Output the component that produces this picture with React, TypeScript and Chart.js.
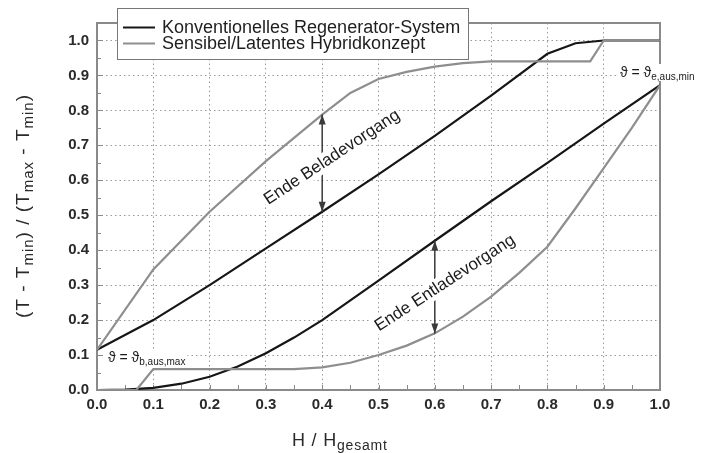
import React, { useEffect, useRef } from "react";
import { Chart, registerables } from "chart.js";

Chart.register(...registerables);

const FONT = "'Liberation Sans', Arial, Helvetica, sans-serif";

// ---- data ----
const legendLabels = ["Konventionelles Regenerator-System", "Sensibel/Latentes Hybridkonzept"];
const xTicks = [0, 0.1, 0.2, 0.3, 0.4, 0.5, 0.6, 0.7, 0.8, 0.9, 1.0];
const yTicks = [0, 0.1, 0.2, 0.3, 0.4, 0.5, 0.6, 0.7, 0.8, 0.9, 1.0];

// Konventionelles Regenerator-System, end of charging
const convChargeX = [0, 0.1, 0.2, 0.3, 0.4, 0.5, 0.6, 0.7, 0.8, 0.85, 0.9, 1.0];
const convChargeY = [0.115, 0.2, 0.3, 0.405, 0.51, 0.617, 0.727, 0.842, 0.962, 0.992, 1.0, 1.0];
// Konventionelles Regenerator-System, end of discharging
const convDischargeX = [0, 0.05, 0.1, 0.15, 0.2, 0.25, 0.3, 0.35, 0.4, 0.5, 0.6, 0.7, 0.8, 0.9, 1.0];
const convDischargeY = [0, 0.001, 0.006, 0.018, 0.038, 0.067, 0.105, 0.15, 0.2, 0.313, 0.427, 0.54, 0.65, 0.762, 0.872];
// Hybridkonzept, end of charging
const hybridChargeX = [0, 0.1, 0.2, 0.3, 0.4, 0.45, 0.5, 0.55, 0.6, 0.65, 0.7, 0.876, 0.9, 1.0];
const hybridChargeY = [0.115, 0.345, 0.51, 0.655, 0.788, 0.85, 0.89, 0.91, 0.925, 0.935, 0.94, 0.94, 1.0, 1.0];
// Hybridkonzept, end of discharging
const hybridDischargeX = [0, 0.07, 0.1, 0.2, 0.3, 0.35, 0.4, 0.45, 0.5, 0.55, 0.6, 0.65, 0.7, 0.75, 0.8, 0.85, 0.9, 0.95, 1.0];
const hybridDischargeY = [0, 0, 0.06, 0.06, 0.06, 0.06, 0.065, 0.078, 0.1, 0.127, 0.162, 0.21, 0.267, 0.335, 0.41, 0.52, 0.635, 0.75, 0.872];

// annotations (data values)
const beladeArrow = { x: 0.4, from: 0.51, to: 0.788 };
const entladeArrow = { x: 0.6, from: 0.427, to: 0.162 };
const beladeLabel = "Ende Beladevorgang";
const entladeLabel = "Ende Entladevorgang";

const BLACK = "#161616";
const GRAY = "#8e8e8e";
const FRAME = "#8a8a8a";

const pts = (xs: number[], ys: number[]) => xs.map((x, i) => ({ x, y: ys[i] }));

type Part = { t: string; sub?: boolean };

function richWidth(ctx: CanvasRenderingContext2D, parts: Part[], main: number, sub: number) {
  let w = 0;
  for (const p of parts) {
    ctx.font = `${p.sub ? sub : main}px ${FONT}`;
    w += ctx.measureText(p.t).width;
  }
  return w;
}

function drawRich(
  ctx: CanvasRenderingContext2D,
  parts: Part[],
  x: number,
  y: number,
  main: number,
  sub: number,
  shift: number,
  align: "left" | "center",
  color: string
) {
  const w = richWidth(ctx, parts, main, sub);
  let cx = align === "center" ? x - w / 2 : x;
  ctx.fillStyle = color;
  ctx.textAlign = "left";
  ctx.textBaseline = "alphabetic";
  for (const p of parts) {
    ctx.font = `${p.sub ? sub : main}px ${FONT}`;
    ctx.fillText(p.t, cx, y + (p.sub ? shift : 0));
    cx += ctx.measureText(p.t).width;
  }
  return w;
}

function arrowHead(ctx: CanvasRenderingContext2D, x: number, tipY: number, dir: number) {
  ctx.beginPath();
  ctx.moveTo(x, tipY);
  ctx.lineTo(x - 3.5, tipY - dir * 10);
  ctx.lineTo(x + 3.5, tipY - dir * 10);
  ctx.closePath();
  ctx.fill();
}

function doubleArrow(ctx: CanvasRenderingContext2D, x: number, y1: number, y2: number) {
  ctx.strokeStyle = "#3a3a3a";
  ctx.fillStyle = "#3a3a3a";
  ctx.lineWidth = 1.5;
  ctx.beginPath();
  ctx.moveTo(x, y1);
  ctx.lineTo(x, y2);
  ctx.stroke();
  arrowHead(ctx, x, y1, y1 < y2 ? -1 : 1);
  arrowHead(ctx, x, y2, y2 < y1 ? -1 : 1);
}

function rotatedLabel(ctx: CanvasRenderingContext2D, text: string, cx: number, cy: number, deg: number, size: number) {
  ctx.save();
  ctx.translate(cx, cy);
  ctx.rotate((deg * Math.PI) / 180);
  ctx.font = `${size}px ${FONT}`;
  const w = ctx.measureText(text).width;
  ctx.fillStyle = "#ffffff";
  ctx.fillRect(-w / 2 - 2, -size * 0.55, w + 4, size * 1.1);
  ctx.fillStyle = "#1a1a1a";
  ctx.textAlign = "center";
  ctx.textBaseline = "middle";
  ctx.fillText(text, 0, 0);
  ctx.restore();
}

const overlay = {
  id: "overlay",
  beforeDatasetsDraw(chart: any) {
    const { ctx, chartArea: a, scales } = chart;
    const xs = scales.x;
    const ys = scales.y;
    ctx.save();
    ctx.strokeStyle = FRAME;
    ctx.lineWidth = 1;
    ctx.beginPath();
    for (let i = 0; i <= 21; i++) {
      const y = Math.round(ys.getPixelForValue(i * 0.05)) + 0.5;
      const len = i % 2 === 0 ? 6 : 4;
      ctx.moveTo(a.left, y);
      ctx.lineTo(a.left + len, y);
    }
    for (let i = 0; i <= 20; i++) {
      const x = Math.round(xs.getPixelForValue(i * 0.05)) + 0.5;
      ctx.moveTo(x, a.bottom);
      ctx.lineTo(x, a.bottom - 5);
    }
    ctx.stroke();
    ctx.lineWidth = 2;
    ctx.strokeRect(a.left, a.top, a.right - a.left, a.bottom - a.top);
    ctx.restore();
  },
  afterDraw(chart: any) {
    const { ctx, scales } = chart;
    const xs = scales.x;
    const ys = scales.y;
    ctx.save();

    // arrows
    doubleArrow(ctx, xs.getPixelForValue(beladeArrow.x), ys.getPixelForValue(beladeArrow.from), ys.getPixelForValue(beladeArrow.to));
    doubleArrow(ctx, xs.getPixelForValue(entladeArrow.x), ys.getPixelForValue(entladeArrow.from), ys.getPixelForValue(entladeArrow.to));

    // rotated labels
    rotatedLabel(ctx, beladeLabel, xs.getPixelForValue(0.4174), ys.getPixelForValue(0.6657), -33.4, 17);
    rotatedLabel(ctx, entladeLabel, xs.getPixelForValue(0.618), ys.getPixelForValue(0.3057), -33, 17);

    // theta labels
    const thE: Part[] = [{ t: "\u03D1 = \u03D1" }, { t: "e,aus,min", sub: true }];
    const wE = richWidth(ctx, thE, 14, 10);
    ctx.fillStyle = "#fff";
    ctx.fillRect(618, 64, wE + 4, 17);
    drawRich(ctx, thE, 620, 77, 14, 10, 3, "left", "#1a1a1a");

    const thB: Part[] = [{ t: "\u03D1 = \u03D1" }, { t: "b,aus,max", sub: true }];
    const wB = richWidth(ctx, thB, 14, 10);
    ctx.fillStyle = "#fff";
    ctx.fillRect(106, 349, wB + 4, 18);
    drawRich(ctx, thB, 108, 362, 14, 10, 3, "left", "#1a1a1a");

    // legend box
    ctx.fillStyle = "#fff";
    ctx.fillRect(117, 8, 351, 51);
    ctx.strokeStyle = "#777";
    ctx.lineWidth = 1;
    ctx.strokeRect(117.5, 8.5, 351, 51);
    const rows = [
      { label: legendLabels[0], color: BLACK, y: 27.5 },
      { label: legendLabels[1], color: GRAY, y: 43.5 },
    ];
    for (const r of rows) {
      ctx.strokeStyle = r.color;
      ctx.lineWidth = 2;
      ctx.beginPath();
      ctx.moveTo(123, r.y);
      ctx.lineTo(155, r.y);
      ctx.stroke();
      ctx.fillStyle = "#1e1e1e";
      ctx.font = `18px ${FONT}`;
      ctx.textAlign = "left";
      ctx.textBaseline = "middle";
      ctx.fillText(r.label, 162, r.y + 0.5);
    }

    // axis titles
    ctx.save();
    (ctx as any).letterSpacing = "0.8px";
    drawRich(ctx, [{ t: "H / H" }, { t: "gesamt", sub: true }], 292, 446, 18, 14, 4, "left", "#2a2a2a");
    ctx.restore();

    ctx.save();
    (ctx as any).letterSpacing = "1px";
    ctx.translate(29, 206);
    ctx.rotate(-Math.PI / 2);
    drawRich(
      ctx,
      [
        { t: "(T - T" },
        { t: "min", sub: true },
        { t: ") / (T" },
        { t: "max", sub: true },
        { t: " - T" },
        { t: "min", sub: true },
        { t: ")" },
      ],
      0,
      0,
      19,
      15,
      4,
      "center",
      "#2a2a2a"
    );
    ctx.restore();

    ctx.restore();
  },
};

export default function App() {
  const ref = useRef<HTMLCanvasElement>(null);
  useEffect(() => {
    const tickFont = { size: 15, weight: "bold" as const, family: FONT };
    const chart = new Chart(ref.current!, {
      type: "line",
      data: {
        datasets: [
          { label: legendLabels[1], data: pts(hybridChargeX, hybridChargeY), borderColor: GRAY, borderWidth: 2.2, pointRadius: 0, tension: 0, fill: false },
          { label: legendLabels[1], data: pts(hybridDischargeX, hybridDischargeY), borderColor: GRAY, borderWidth: 2.2, pointRadius: 0, tension: 0, fill: false },
          { label: legendLabels[0], data: pts(convChargeX, convChargeY), borderColor: BLACK, borderWidth: 2.2, pointRadius: 0, tension: 0, fill: false },
          { label: legendLabels[0], data: pts(convDischargeX, convDischargeY), borderColor: BLACK, borderWidth: 2.2, pointRadius: 0, tension: 0, fill: false },
        ],
      },
      options: {
        animation: false,
        responsive: false,
        devicePixelRatio: 1,
        parsing: false as any,
        layout: { padding: { left: 0, right: 45, top: 23, bottom: 0 } },
        plugins: { legend: { display: false }, tooltip: { enabled: false } },
        scales: {
          x: {
            type: "linear",
            min: 0,
            max: 1,
            afterBuildTicks: (s: any) => {
              s.ticks = xTicks.map((v) => ({ value: v }));
            },
            afterFit: (s: any) => {
              s.height = 63;
            },
            grid: { color: "#9a9a9a", lineWidth: 1, drawTicks: false },
            border: { display: false, dash: [1.5, 3] },
            ticks: {
              padding: 6,
              font: tickFont,
              color: "#2a2a2a",
              maxRotation: 0,
              autoSkip: false,
              callback: (v: any) => Number(v).toFixed(1),
            },
          },
          y: {
            type: "linear",
            min: 0,
            max: 1.05,
            afterBuildTicks: (s: any) => {
              s.ticks = yTicks.map((v) => ({ value: v }));
            },
            afterFit: (s: any) => {
              s.width = 97;
            },
            grid: { color: "#9a9a9a", lineWidth: 1, drawTicks: false },
            border: { display: false, dash: [1.5, 3] },
            ticks: {
              padding: 8,
              font: tickFont,
              color: "#2a2a2a",
              autoSkip: false,
              callback: (v: any) => Number(v).toFixed(1),
            },
          },
        },
      },
      plugins: [overlay],
    });
    return () => chart.destroy();
  }, []);
  return (
    <div style={{ position: "absolute", left: 0, top: 0, width: 705, height: 453, background: "#fff" }}>
      <canvas ref={ref} width={705} height={453} style={{ display: "block" }} />
    </div>
  );
}
